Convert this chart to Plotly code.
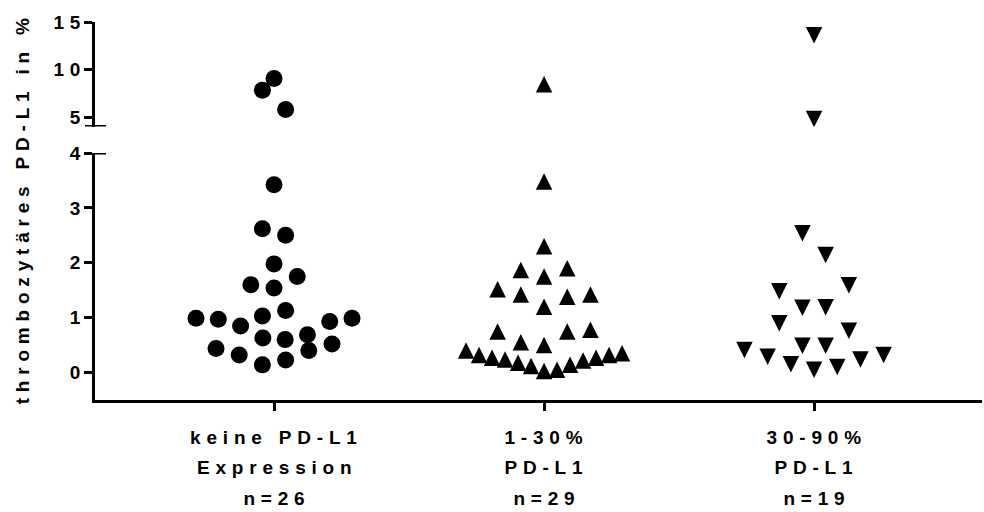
import plotly.graph_objects as go

# Thrombozytäres PD-L1 (%) pro Patient, in Tabellenreihenfolge
keine_pdl1 = [9.06, 7.83, 5.80, 3.42, 2.62, 2.50, 1.98, 1.54, 1.60, 1.75, 1.03, 1.13,
              0.99, 0.99, 0.97, 0.93, 0.85, 0.69, 0.63, 0.60, 0.44, 0.52, 0.32, 0.40,
              0.14, 0.23]
pdl1_1_30 = [8.46, 3.48, 2.30, 1.87, 1.90, 1.75, 1.52, 1.42, 1.42, 1.38, 1.20,
             0.75, 0.78, 0.55, 0.75, 0.50,
             0.40, 0.35, 0.32, 0.32, 0.27, 0.27, 0.24, 0.22, 0.18, 0.14, 0.12, 0.05, 0.03]
pdl1_30_90 = [13.60, 4.79, 2.54, 2.14, 1.48, 1.59, 1.18, 1.19, 0.90, 0.76, 0.49, 0.49,
              0.41, 0.32, 0.29, 0.24, 0.15, 0.10, 0.05]

group_lines = [
    ["keine PD-L1", "Expression", "n=26"],
    ["1-30%", "PD-L1", "n=29"],
    ["30-90%", "PD-L1", "n=19"],
]
y_title = "thrombozytäres PD-L1 in %"
lower_ticks = [0, 1, 2, 3, 4]
upper_ticks = [5, 10, 15]

# ---- geometry -------------------------------------------------------------
W, H = 984, 512
M_L, M_R, M_T, M_B = 95, 2, 22, 112
plot_w = W - M_L - M_R
plot_h = H - M_T - M_B
x_range = [0.337, 3.622]
lower_range = [-0.5, 4]
upper_range = [4, 15]
lower_dom = [0.0, 0.6534]
upper_dom = [0.7235, 1.0]
BREAK = 4

FONT = "Liberation Sans, Arial, sans-serif"
FONT_SIZE = 19
TRACKING = 5.8    # letter spacing of all labels (px)
INK = "#000000"

x_px = plot_w / (x_range[1] - x_range[0])


def height_px(v):
    """Pixel height of a value above the bottom of the plot area."""
    if v > BREAK:
        lo, hi = upper_range
        d0, d1 = upper_dom
    else:
        lo, hi = lower_range
        d0, d1 = lower_dom
    return plot_h * (d0 + (v - lo) / (hi - lo) * (d1 - d0))


ROW_H = 23.0      # values closer than this (px) share a row
STEP = 23.2       # horizontal spacing between neighbours in a row (px)
MAX_W = 156.0     # widest a row may spread (px)


def swarm(values):
    """Column-scatter layout: rows built bottom-up, filled outside-in."""
    hp = [height_px(v) for v in values]
    order = sorted(range(len(values)), key=lambda i: hp[i])
    rows = []
    for i in order:
        if rows and hp[i] - hp[rows[-1][0]] < ROW_H:
            rows[-1].append(i)
        else:
            rows.append([i])
    off = [0.0] * len(values)
    for row in rows:
        n = len(row)
        if n == 1:
            continue
        d = min(STEP, MAX_W / (n - 1))
        slots = [(j - (n - 1) / 2) * d for j in range(n)]
        members = sorted(row, key=lambda i: (-values[i], i))
        for k in range(n // 2):
            left, right = sorted(members[2 * k:2 * k + 2])
            off[left] = slots[k]
            off[right] = slots[n - 1 - k]
    return [o / x_px for o in off]


groups = [
    (keine_pdl1, dict(symbol="circle", size=17)),
    (pdl1_1_30, dict(symbol="arrow-down", size=16.5, angle=180, standoff=8.25)),
    (pdl1_30_90, dict(symbol="arrow-down", size=16.5, standoff=8.25)),
]

fig = go.Figure()
for gi, (vals, mk) in enumerate(groups, start=1):
    offs = swarm(vals)
    xs = [gi + o for o in offs]
    for axis, keep in (("y", lambda v: v <= BREAK), ("y2", lambda v: v > BREAK)):
        sel = [i for i, v in enumerate(vals) if keep(v)]
        if not sel:
            continue
        fig.add_trace(go.Scatter(
            x=[xs[i] for i in sel], y=[vals[i] for i in sel],
            mode="markers", yaxis=axis, showlegend=False, hoverinfo="y",
            marker=dict(color=INK, line=dict(width=0), **mk),
        ))

label_font = dict(family=FONT, size=FONT_SIZE, color=INK, weight=700)

axis_common = dict(
    showline=True, linecolor=INK, linewidth=3,
    ticks="outside", ticklen=8, tickwidth=3, tickcolor=INK,
    showgrid=False, zeroline=False, tickfont=label_font,
)

fig.update_layout(
    width=W, height=H,
    margin=dict(l=M_L, r=M_R, t=M_T, b=M_B),
    paper_bgcolor="white", plot_bgcolor="white",
    xaxis=dict(range=x_range, tickvals=[1, 2, 3], showticklabels=False,
               anchor="y", **axis_common),
    yaxis=dict(range=lower_range, domain=lower_dom, tickvals=lower_ticks,
               anchor="x", ticklabelstandoff=-6, **axis_common),
    yaxis2=dict(range=upper_range, domain=upper_dom, tickvals=upper_ticks,
                anchor="x", ticklabelstandoff=-6, **axis_common),
)

# axis-break end caps
for yref in ("y", "y2"):
    fig.add_shape(type="line", xref="paper", xsizemode="pixel", xanchor=0,
                  x0=-10, x1=11, yref=yref, y0=BREAK, y1=BREAK,
                  line=dict(color=INK, width=3))

line_centers = [437, 467.5, 498]
for gi, lines in enumerate(group_lines, start=1):
    for text, yc in zip(lines, line_centers):
        fig.add_annotation(x=gi, xref="x", y=0, yref="paper",
                           yshift=(plot_h + M_T) - yc, xshift=TRACKING / 2,
                           text=text, showarrow=False, font=label_font,
                           xanchor="center", yanchor="middle")

fig.add_annotation(x=(21.7 - M_L) / plot_w, xref="paper", y=0.5, yref="paper",
                   yshift=TRACKING / 2, text=y_title, textangle=-90, showarrow=False,
                   font=label_font, xanchor="center", yanchor="middle")

spacing_js = (
    "var gd=document.getElementById('{plot_id}');"
    "gd.querySelectorAll('text').forEach(function(t){t.style.letterSpacing='%spx';});"
    % TRACKING
)
fig.write_html("out.html", post_script=spacing_js)
